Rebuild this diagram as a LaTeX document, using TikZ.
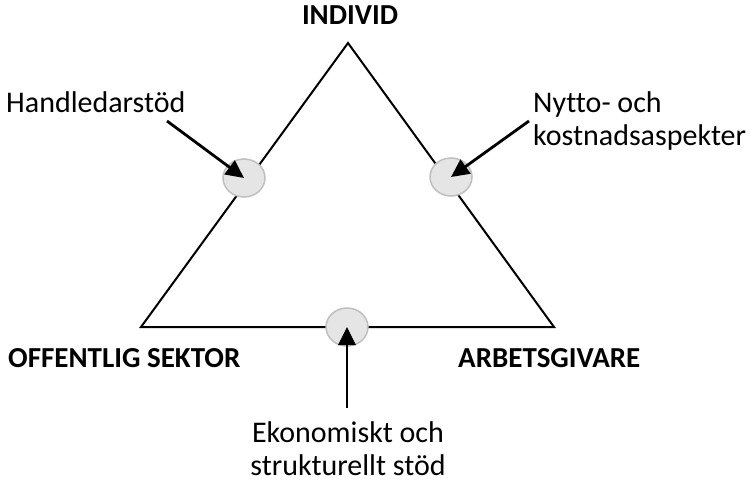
\documentclass[tikz,border=0pt]{standalone}
\usepackage{fontspec}
\setmainfont{Carlito}[Ligatures=NoCommon]
\usepackage{tikz}
\usetikzlibrary{arrows.meta,positioning,shapes.geometric}

\begin{document}
\begin{tikzpicture}[x=1pt,y=-1pt,
    txt/.style={inner sep=0pt,font=\fontsize{30}{33}\selectfont},
    corner/.style={inner sep=0pt,font=\fontsize{29}{33}\selectfont\bfseries},
    spot/.style={ellipse,draw=black!25,line width=1.5pt,fill=black!10,
      minimum width=42pt,minimum height=38pt,inner sep=0pt},
    pointer/.style={line width=2.8pt,-{Triangle[length=18pt,width=17pt]}}]
  \useasboundingbox (0,0) rectangle (751,484);

  % triangle
  \coordinate (top) at (348,43);
  \coordinate (left) at (141,327);
  \coordinate (right) at (554,327);
  \draw[line width=2pt] (top) -- (right) -- (left) -- cycle;

  % corner labels
  \node[corner,anchor=base] (individ) at (350,25) {INDIVID};
  \node[corner,anchor=base west] (offentlig) at (8,367) {OFFENTLIG SEKTOR};
  \node[corner,anchor=base west] (arbetsgivare) at (458,367) {ARBETSGIVARE};

  % grey spots on the sides
  \node[spot] (handspot) at (244,178) {};
  \node[spot] (nyttospot) at (451,177) {};
  \node[spot] (ekospot) at (347,327) {};

  % side labels (base = last line)
  \node[txt,anchor=base west] (hand) at (6,113) {Handledarstöd};
  \node[txt,anchor=base west,align=left] (nytto) at (533,145) {Nytto- och\\kostnadsaspekter};
  \node[txt,anchor=base,align=center] (eko) at (348,475) {Ekonomiskt och\\strukturellt stöd};

  % arrows into the spots
  \coordinate (handtail) at (167,121);
  \coordinate (nyttotail) at (529,121);
  \coordinate (ekotail) at (347,408);
  \draw[pointer] (handtail) -- (handspot.center);
  \draw[pointer] (nyttotail) -- (nyttospot.center);
  \draw[pointer] (ekotail) -- (ekospot.center);

\end{tikzpicture}
\end{document}
